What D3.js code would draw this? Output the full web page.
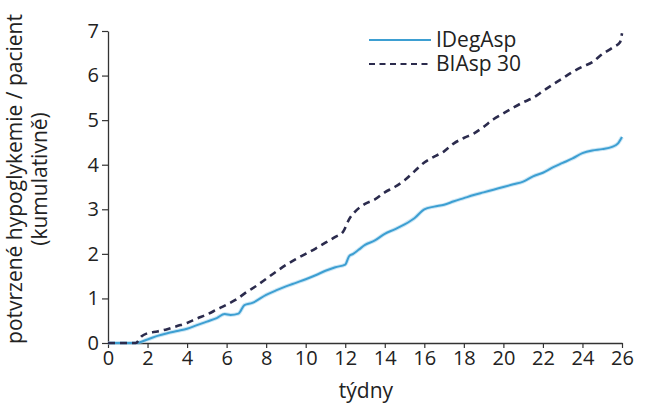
<!DOCTYPE html>
<html>
<head>
<meta charset="utf-8">
<script src="https://cdn.jsdelivr.net/npm/d3@7"></script>
<style>
  body { margin: 0; background: #fff; }
  svg text { font-family: "Open Sans", "Noto Sans", sans-serif; fill: #222; }
</style>
</head>
<body>
<svg id="chart" width="662" height="405"></svg>
<script>
// Cumulative confirmed hypoglycaemia episodes per patient over 26 weeks
const weeksIDeg = [0, 1.4, 2, 2.5, 3, 3.5, 4, 4.5, 5, 5.5, 5.9, 6.2, 6.6, 6.9, 7.3, 8, 8.5, 9, 9.5, 10, 10.5, 11, 11.5, 12, 12.2, 12.4, 12.7, 13, 13.5, 14, 14.5, 15, 15.5, 16, 16.5, 17, 17.5, 18, 18.5, 19, 19.5, 20, 20.5, 21, 21.5, 22, 22.5, 23, 23.5, 24, 24.5, 25, 25.5, 25.8, 26];
const valuesIDeg = [0, 0, 0.08, 0.16, 0.22, 0.27, 0.32, 0.4, 0.48, 0.56, 0.65, 0.63, 0.66, 0.85, 0.9, 1.08, 1.18, 1.27, 1.35, 1.43, 1.52, 1.62, 1.7, 1.76, 1.95, 2.0, 2.1, 2.2, 2.3, 2.45, 2.55, 2.66, 2.8, 3.0, 3.06, 3.1, 3.18, 3.25, 3.32, 3.38, 3.44, 3.5, 3.56, 3.62, 3.74, 3.82, 3.94, 4.04, 4.14, 4.26, 4.32, 4.35, 4.4, 4.48, 4.62];

const weeksBIAsp = [0, 1.4, 1.7, 2, 2.5, 3, 3.5, 4, 4.5, 5, 5.5, 6, 6.5, 7, 7.5, 8, 8.5, 9, 9.5, 10, 10.5, 11, 11.5, 11.9, 12.2, 12.5, 13, 13.5, 14, 14.5, 15, 15.5, 16, 16.5, 17, 17.5, 18, 18.5, 19, 19.5, 20, 20.5, 21, 21.5, 22, 22.5, 23, 23.5, 24, 24.5, 25, 25.5, 25.9, 26];
const valuesBIAsp = [0, 0, 0.15, 0.22, 0.26, 0.31, 0.38, 0.45, 0.55, 0.64, 0.75, 0.86, 0.98, 1.14, 1.28, 1.44, 1.6, 1.75, 1.88, 2.0, 2.12, 2.25, 2.38, 2.5, 2.78, 2.95, 3.12, 3.22, 3.38, 3.5, 3.65, 3.85, 4.05, 4.18, 4.3, 4.48, 4.6, 4.7, 4.85, 5.02, 5.15, 5.28, 5.4, 5.5, 5.65, 5.8, 5.94, 6.08, 6.2, 6.3, 6.48, 6.62, 6.75, 6.95];

const xTicks = d3.range(0, 27, 2);
const yTicks = [0, 1, 2, 3, 4, 5, 6, 7];
const seriesNames = ["IDegAsp", "BIAsp 30"];

const svg = d3.select("#chart");

const x = d3.scaleLinear().domain([0, 26]).range([108, 622]);
const y = d3.scaleLinear().domain([0, 7]).range([343, 31]);

const axisColor = "#333";
const fontStack = "'Open Sans', 'Noto Sans', sans-serif";

// x axis
const gx = svg.append("g").attr("transform", `translate(0,${y(0)})`)
  .call(d3.axisBottom(x).tickValues(xTicks).tickFormat(d3.format("d"))
    .tickSize(5).tickSizeOuter(0).tickPadding(3));
gx.attr("font-size", null).attr("font-family", null);
gx.select(".domain").attr("stroke", axisColor).attr("stroke-width", 1.3);
gx.selectAll(".tick line").attr("stroke", axisColor).attr("stroke-width", 1.2);
gx.selectAll(".tick text").style("font-size", "20px").style("font-family", fontStack)
  .attr("fill", "#222");

// y axis
const gy = svg.append("g").attr("transform", `translate(${x(0)},0)`)
  .call(d3.axisLeft(y).tickValues(yTicks).tickFormat(d3.format("d"))
    .tickSize(6).tickSizeOuter(0).tickPadding(3));
gy.attr("font-size", null).attr("font-family", null);
gy.select(".domain").attr("stroke", axisColor).attr("stroke-width", 1.3);
gy.selectAll(".tick line").attr("stroke", axisColor).attr("stroke-width", 1.2);
gy.selectAll(".tick text").style("font-size", "20px").style("font-family", fontStack)
  .attr("fill", "#222");

// axis titles
svg.append("text").attr("x", 366).attr("y", 398).attr("text-anchor", "middle")
  .style("font-size", "21px").text("týdny");
const yt = svg.append("text").attr("transform", `translate(22,179) rotate(-90)`)
  .attr("text-anchor", "middle").style("font-size", "21px");
yt.append("tspan").attr("x", 0).attr("y", 0).text("potvrzené hypoglykemie / pacient");
yt.append("tspan").attr("x", 0).attr("y", 25).text("(kumulativně)");

const line = d3.line().x(d => x(d[0])).y(d => y(d[1])).curve(d3.curveMonotoneX);

const dataIDeg = weeksIDeg.map((w, i) => [w, valuesIDeg[i]]);
const dataBIAsp = weeksBIAsp.map((w, i) => [w, valuesBIAsp[i]]);

const blue = "#3d9fd2";
const navy = "#2b2b4d";

// soft halo under the solid line
svg.append("path").datum(dataIDeg).attr("d", line).attr("fill", "none")
  .attr("stroke", "#a9d6ee").attr("stroke-width", 4).attr("stroke-opacity", 0.6);
svg.append("path").datum(dataIDeg).attr("d", line).attr("fill", "none")
  .attr("stroke", blue).attr("stroke-width", 2);

svg.append("path").datum(dataBIAsp).attr("d", line).attr("fill", "none")
  .attr("stroke", navy).attr("stroke-width", 2.6).attr("stroke-dasharray", "7,5");

// legend
const legend = svg.append("g");
const legendRows = [
  { name: seriesNames[0], color: blue, dash: null, yPos: 40 },
  { name: seriesNames[1], color: navy, dash: "6,4.5", yPos: 64 }
];
legendRows.forEach(r => {
  legend.append("line").attr("x1", 369).attr("x2", 431).attr("y1", r.yPos).attr("y2", r.yPos)
    .attr("stroke", r.color).attr("stroke-width", r.dash ? 2.2 : 2)
    .attr("stroke-dasharray", r.dash);
  legend.append("text").attr("x", 436).attr("y", r.yPos + 7).style("font-size", "21px").text(r.name);
});
</script>
</body>
</html>
